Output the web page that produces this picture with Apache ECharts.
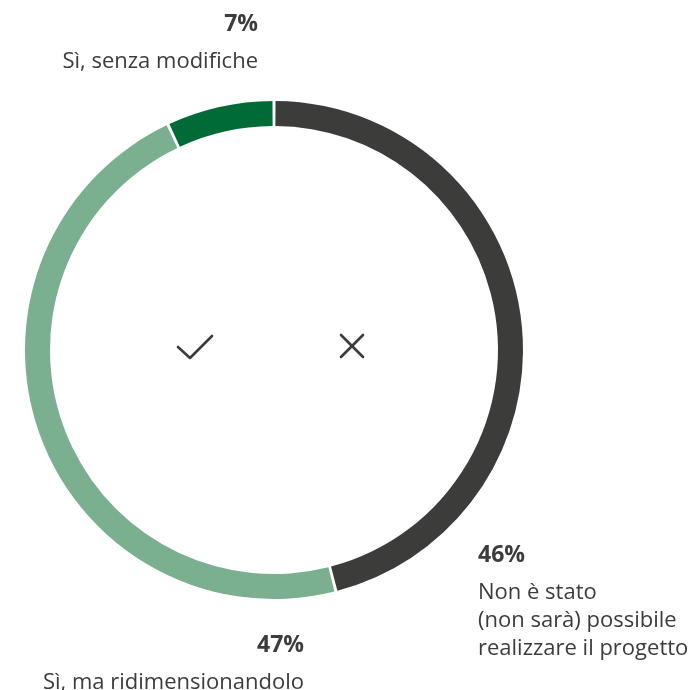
<!DOCTYPE html>
<html>
<head>
<meta charset="utf-8">
<script src="https://cdn.jsdelivr.net/npm/echarts@6/dist/echarts.min.js"></script>
<style>
	html, body { margin: 0; padding: 0; background: #fff; }
	#chart { width: 700px; height: 690px; }
</style>
</head>
<body>
<div id="chart"></div>
<script>
"use strict";

var answers = ['Non è stato\n(non sarà) possibile\nrealizzare il progetto', 'Sì, ma ridimensionandolo', 'Sì, senza modifiche'];
var shares = [46, 47, 7];
var colors = ['#3c3c3a', '#7ab08f', '#006b37'];

// where each label block sits (top anchor)
var labelSpots = [
	{ x: 478, y: 531, align: 'left' },
	{ x: 304, y: 621, align: 'right' },
	{ x: 258, y: 0, align: 'right' }
];

var TEXT_COLOR = '#3c3c3a';
var chart = echarts.init(document.getElementById('chart'));

var pieData = [];
for (var i = 0; i < shares.length; i++) {
	pieData.push({
		name: answers[i],
		value: shares[i],
		itemStyle: { color: colors[i] }
	});
}

chart.setOption({
	animation: false,
	series: [{
		type: 'pie',
		center: [274, 350],
		radius: [224, 249],
		startAngle: 90,
		clockwise: true,
		padAngle: 0.7,
		silent: true,
		avoidLabelOverlap: false,
		data: pieData,
		label: {
			show: true,
			overflow: 'none',
			formatter: function(p) {
				return '{p|' + p.value + '%}\n{t|' + p.name.split('\n').join('}\n{t|') + '}';
			},
			rich: {
				p: {
					fontFamily: 'Open Sans',
					fontWeight: 'bold',
					fontSize: 23,
					lineHeight: 48,
					color: TEXT_COLOR
				},
				t: {
					fontFamily: 'Open Sans',
					fontSize: 22,
					lineHeight: 28,
					color: TEXT_COLOR
				}
			}
		},
		labelLine: { show: false },
		labelLayout: function(params) {
			var s = labelSpots[params.dataIndex];
			return {
				x: s.x,
				y: s.y,
				align: s.align,
				verticalAlign: 'top',
				hideOverlap: false,
				moveOverlap: null
			};
		}
	}],
	graphic: [{
		type: 'polyline',
		shape: { points: [[178, 347], [190, 358], [212, 336]] },
		style: { stroke: TEXT_COLOR, lineWidth: 2.6, fill: null, lineCap: 'round', lineJoin: 'round' }
	}, {
		type: 'line',
		shape: { x1: 341, y1: 335, x2: 363, y2: 357 },
		style: { stroke: TEXT_COLOR, lineWidth: 2.6, lineCap: 'round' }
	}, {
		type: 'line',
		shape: { x1: 363, y1: 335, x2: 341, y2: 357 },
		style: { stroke: TEXT_COLOR, lineWidth: 2.6, lineCap: 'round' }
	}]
});
</script>
</body>
</html>
